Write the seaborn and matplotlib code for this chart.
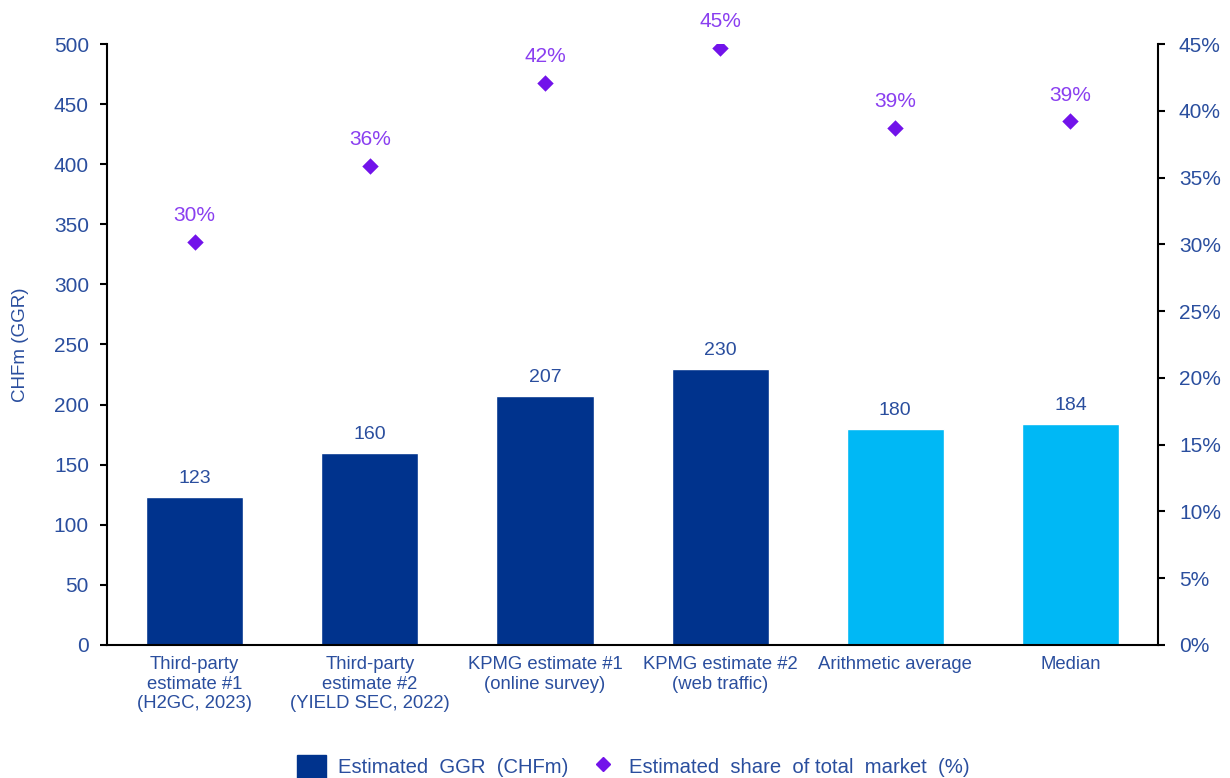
import matplotlib
matplotlib.use("Agg")
import matplotlib.pyplot as plt
import seaborn as sns
import pandas as pd
from matplotlib.lines import Line2D
from matplotlib.patches import Patch

categories = [
    "Third-party\nestimate #1\n(H2GC, 2023)",
    "Third-party\nestimate #2\n(YIELD SEC, 2022)",
    "KPMG estimate #1\n(online survey)",
    "KPMG estimate #2\n(web traffic)",
    "Arithmetic average",
    "Median",
]
ggr_values = [123, 160, 207, 230, 180, 184]
share_values = [30.2, 35.9, 42.1, 44.7, 38.7, 39.2]
share_labels = ["30%", "36%", "42%", "45%", "39%", "39%"]
left_ticks = [0, 50, 100, 150, 200, 250, 300, 350, 400, 450, 500]
right_ticks = [0, 5, 10, 15, 20, 25, 30, 35, 40, 45]

DARK_BLUE = "#00338D"
LIGHT_BLUE = "#00B8F5"
PURPLE = "#7213EA"
TEXT_BLUE = "#2A4E9E"
PCT_PURPLE = "#8A3FF0"

sns.set_theme(style="white")
plt.rcParams["font.family"] = ["Liberation Sans", "DejaVu Sans"]

df = pd.DataFrame({"category": categories, "ggr": ggr_values, "share": share_values})
bar_colors = [DARK_BLUE] * 4 + [LIGHT_BLUE] * 2

fig = plt.figure(figsize=(12.3, 7.78), dpi=100)
ax = fig.add_axes([0.087, 0.171, 0.8545, 0.7724])

sns.barplot(data=df, x="category", y="ggr", hue="category", palette=bar_colors,
            legend=False, width=0.555, saturation=1, ax=ax)
ax.set_ylim(0, 500)
ax.set_xlim(-0.5, 5.5)
ax.set_yticks(left_ticks)
ax.set_xlabel("")
ax.set_ylabel("CHFm (GGR)", color=TEXT_BLUE, fontsize=13.5, labelpad=18)
ax.tick_params(axis="y", colors="black", labelcolor=TEXT_BLUE, labelsize=15,
               direction="out", length=5, width=1.5, left=True, pad=8)
ax.tick_params(axis="x", labelcolor=TEXT_BLUE, labelsize=13.3, length=0, pad=8)
for lbl in ax.get_xticklabels():
    lbl.set_linespacing(1.2)
    lbl.set_verticalalignment("top")

for i, v in enumerate(ggr_values):
    ax.annotate(f"{v}", xy=(i, v), xytext=(0, 7), textcoords="offset points",
                ha="center", va="bottom", fontsize=14, color=TEXT_BLUE)

ax2 = ax.twinx()
sns.scatterplot(data=df, x="category", y="share", marker="D", s=70,
                color=PURPLE, edgecolor=PURPLE, linewidth=0, ax=ax2, zorder=5)
ax2.set_ylim(0, 45)
ax2.set_xlim(-0.5, 5.5)
ax2.set_yticks(right_ticks)
ax2.set_yticklabels([f"{t}%" for t in right_ticks])
ax2.set_ylabel("")
ax2.tick_params(axis="y", colors="black", labelcolor=TEXT_BLUE, labelsize=15,
                direction="out", length=5, width=1.5, right=True, pad=10)
for i, (v, lab) in enumerate(zip(share_values, share_labels)):
    ax2.annotate(lab, xy=(i, v), xytext=(0, 12), textcoords="offset points",
                 ha="center", va="bottom", fontsize=15, color=PCT_PURPLE)

for a in (ax, ax2):
    a.spines["top"].set_visible(False)
    for s in ("left", "right", "bottom"):
        a.spines[s].set_color("black")
        a.spines[s].set_linewidth(1.5)
ax.spines["right"].set_visible(False)
ax2.spines["left"].set_visible(False)
ax2.spines["bottom"].set_visible(False)

handles = [
    Patch(facecolor=DARK_BLUE, edgecolor=DARK_BLUE, label="Estimated  GGR  (CHFm)"),
    Line2D([0], [0], marker="D", color="none", markerfacecolor=PURPLE,
           markeredgecolor=PURPLE, markersize=7, label="Estimated  share  of total  market  (%)"),
]
fig.legend(handles=handles, loc="center", bbox_to_anchor=(0.515, 0.015),
           ncol=2, frameon=False, fontsize=14.6, labelcolor=TEXT_BLUE,
           handlelength=1.4, handleheight=1.4, columnspacing=1.0, handletextpad=0.6)

fig.savefig("out.png", dpi=100)
